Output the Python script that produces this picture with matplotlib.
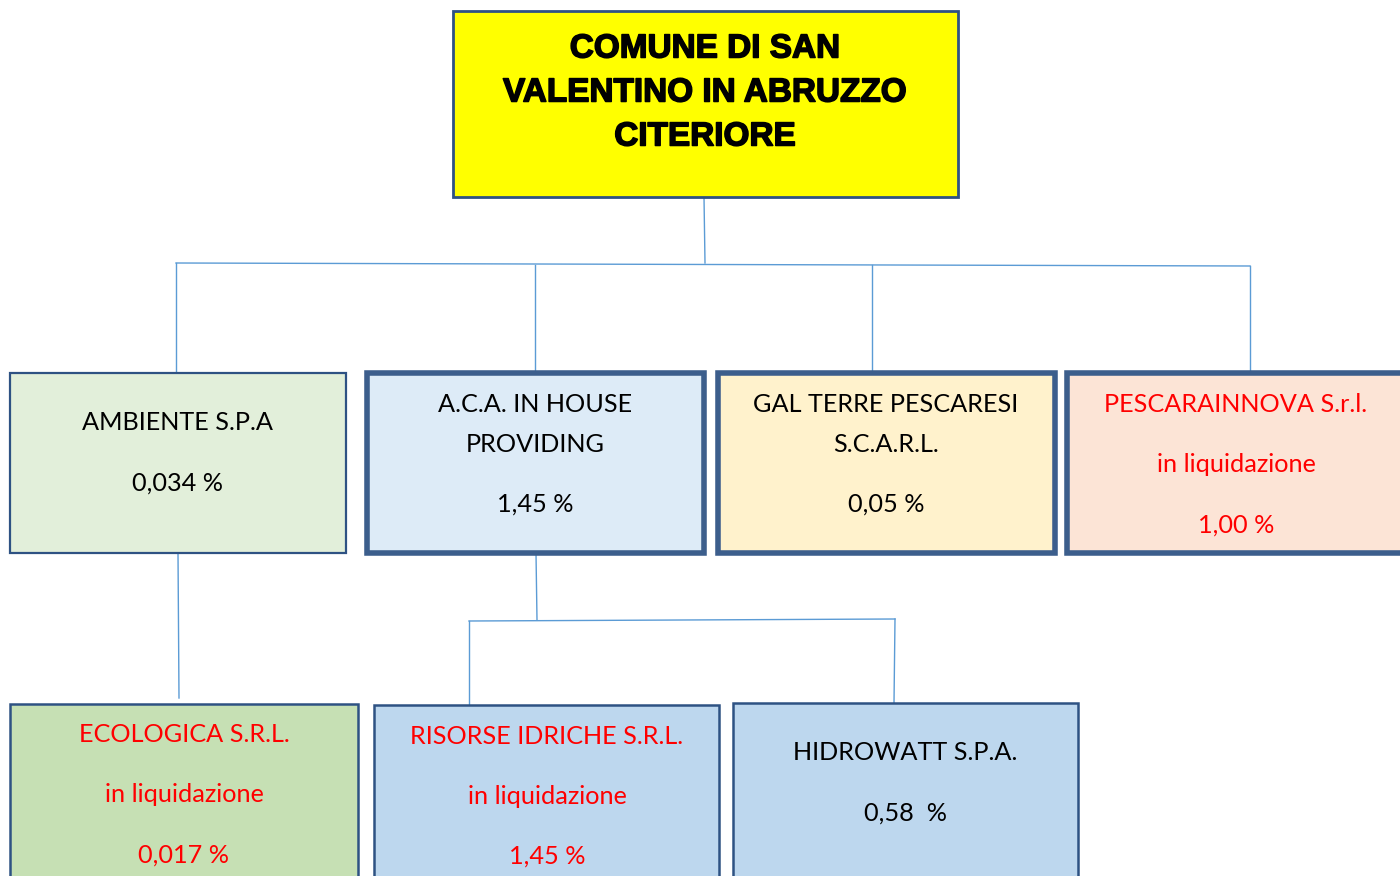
import matplotlib
matplotlib.use("Agg")
import matplotlib.pyplot as plt
from matplotlib.patches import Rectangle
import matplotlib.patheffects as pe

# ---- data ----
root_lines = ["COMUNE DI SAN", "VALENTINO IN ABRUZZO", "CITERIORE"]

node_labels = [
    ["AMBIENTE S.P.A", "0,034 %"],
    ["A.C.A. IN HOUSE", "PROVIDING", "1,45 %"],
    ["GAL TERRE PESCARESI", "S.C.A.R.L.", "0,05 %"],
    ["PESCARAINNOVA S.r.l.", "in liquidazione", "1,00 %"],
    ["ECOLOGICA S.R.L.", "in liquidazione", "0,017 %"],
    ["RISORSE IDRICHE S.R.L.", "in liquidazione", "1,45 %"],
    ["HIDROWATT S.P.A.", "0,58  %"],
]
node_text_y = [
    [423, 483],
    [405, 444, 504],
    [405, 444, 504],
    [405, 465, 525],
    [735, 795, 855],
    [736, 796, 856],
    [752, 813],
]
node_text_x = [178, 535, 886, 1236, 184, 547, 905]
node_text_color = ["black", "black", "black", "red", "red", "red", "black"]

# boxes: x0, y0, x1, y1 (pixel layout)
node_boxes = [
    (10, 373, 346, 553),
    (367, 373, 704, 553),
    (718, 373, 1055, 553),
    (1067, 373, 1410, 553),
    (10, 704, 358, 890),
    (374, 705, 719, 890),
    (733, 703, 1078, 890),
]
node_fill = ["#E2EFDA", "#DDEBF7", "#FFF2CC", "#FCE4D6", "#C6E0B4", "#BDD7EE", "#BDD7EE"]
node_lw = [1.6, 4.0, 4.0, 4.0, 1.8, 1.8, 1.8]

root_box = (453, 11, 958, 197)

connectors = [
    [(704, 197), (705, 263)],
    [(176, 263), (1250, 266)],
    [(176, 263), (176, 373)],
    [(535, 265), (535, 373)],
    [(872, 265), (872, 373)],
    [(1250, 266), (1250, 373)],
    [(178, 553), (179, 698)],
    [(536, 553), (537, 620)],
    [(469, 621), (895, 619)],
    [(469, 621), (469, 704)],
    [(895, 619), (894, 703)],
]

# ---- draw ----
fig = plt.figure(figsize=(14, 8.76), dpi=100)
ax = fig.add_axes([0, 0, 1, 1])
ax.set_xlim(0, 1400)
ax.set_ylim(876, 0)
ax.axis("off")

line_color = "#5B9BD5"
border = "#2E5283"

for seg in connectors:
    (x0, y0), (x1, y1) = seg
    ax.plot([x0, x1], [y0, y1], color=line_color, lw=1.0, zorder=1)

x0, y0, x1, y1 = root_box
ax.add_patch(Rectangle((x0, y0), x1 - x0, y1 - y0, facecolor="#FFFF00",
                       edgecolor=border, lw=2.0, zorder=2))
for i, t in enumerate(root_lines):
    ax.text(705, 49 + 44 * i, t, ha="center", va="center", fontsize=24,
            fontweight="bold", family="Liberation Sans", color="black", zorder=3,
            path_effects=[pe.withStroke(linewidth=1.1, foreground="black")])

for box, fc, lw, labels, ys, xc, tc in zip(node_boxes, node_fill, node_lw,
                                            node_labels, node_text_y,
                                            node_text_x, node_text_color):
    bx0, by0, bx1, by1 = box
    ax.add_patch(Rectangle((bx0, by0), bx1 - bx0, by1 - by0, facecolor=fc,
                           edgecolor=border if lw < 3 else "#3C5E8C", lw=lw, zorder=2))
    for t, y in zip(labels, ys):
        ax.text(xc, y, t, ha="center", va="center", fontsize=18.2,
                family="Lato", color=tc, zorder=3)

fig.savefig("out.png", dpi=100)
